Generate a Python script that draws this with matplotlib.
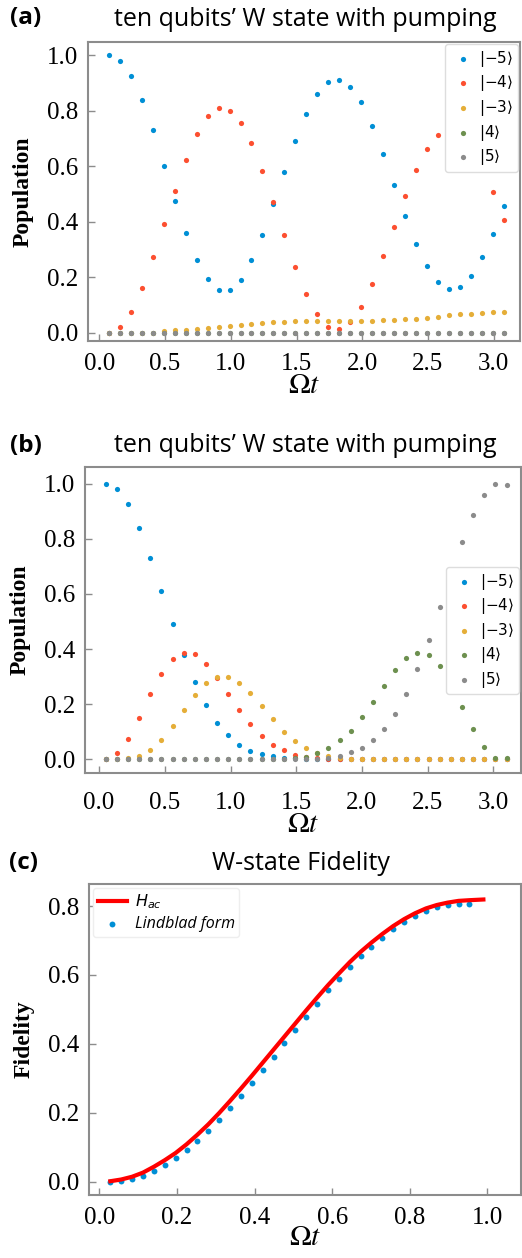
import numpy as np
import matplotlib.pyplot as plt

plt.rcParams['font.family'] = ['Liberation Serif', 'DejaVu Serif']
plt.rcParams['mathtext.fontset'] = 'stix'

colors = ['#008fd5', '#fc4f30', '#e5ae38', '#6d904f', '#8b8b8b']
labels = [r'$|{-5}\rangle$', r'$|{-4}\rangle$', r'$|{-3}\rangle$', r'$|4\rangle$', r'$|5\rangle$']

# panel (a): populations, 37 time samples
t_a = np.linspace(0.071, 3.08, 37)
a_m5 = [1.00, 0.98, 0.927, 0.84, 0.73, 0.60, 0.475, 0.36, 0.264, 0.194, 0.156, 0.156, 0.192,
        0.262, 0.354, 0.463, 0.579, 0.69, 0.787, 0.86, 0.904, 0.912, 0.886, 0.832, 0.747,
        0.646, 0.534, 0.423, 0.32, 0.24, 0.182, 0.158, 0.166, 0.204, 0.273, 0.358, 0.457]
a_m4 = [0.0, 0.02, 0.076, 0.162, 0.273, 0.393, 0.513, 0.624, 0.716, 0.78, 0.81, 0.80, 0.757,
        0.684, 0.585, 0.47, 0.353, 0.238, 0.14, 0.067, 0.022, 0.014, 0.04, 0.095, 0.177,
        0.276, 0.383, 0.492, 0.587, 0.664, 0.712, 0.73, 0.713, 0.664, 0.60, 0.509, 0.408]
a_m3 = [0.0, 0.0, 0.0, 0.0, 0.001, 0.006, 0.009, 0.011, 0.013, 0.017, 0.021, 0.026, 0.029,
        0.032, 0.036, 0.038, 0.041, 0.042, 0.042, 0.042, 0.043, 0.043, 0.043, 0.043, 0.044,
        0.045, 0.047, 0.049, 0.050, 0.055, 0.058, 0.063, 0.067, 0.070, 0.072, 0.075, 0.077]
a_p4 = [0.0] * 37
a_p5 = [0.0] * 37

# panel (b)
t_b = np.linspace(0.051, 3.10, 37)
b_m5 = [1.0, 0.981, 0.925, 0.84, 0.73, 0.612, 0.49, 0.378, 0.28, 0.198, 0.134, 0.087, 0.053,
        0.031, 0.019, 0.012, 0.006, 0.004, 0.002, 0.001, 0.0, 0.0, 0.0, 0.0, 0.0, 0.0, 0.0,
        0.0, 0.0, 0.0, 0.0, 0.0, 0.0, 0.0, 0.0, 0.0, 0.0]
b_m4 = [0.0, 0.022, 0.075, 0.151, 0.236, 0.309, 0.363, 0.387, 0.381, 0.347, 0.297, 0.238, 0.181,
        0.129, 0.084, 0.053, 0.033, 0.018, 0.01, 0.005, 0.003, 0.001, 0.0, 0.0, 0.0, 0.0, 0.0,
        0.0, 0.0, 0.0, 0.0, 0.0, 0.0, 0.0, 0.0, 0.0, 0.0]
b_m3 = [0.0, 0.0, 0.006, 0.014, 0.035, 0.072, 0.123, 0.18, 0.234, 0.277, 0.299, 0.299, 0.277,
        0.241, 0.193, 0.145, 0.10, 0.066, 0.04, 0.022, 0.012, 0.006, 0.003, 0.002, 0.001, 0.0,
        0.0, 0.0, 0.0, 0.0, 0.0, 0.0, 0.0, 0.0, 0.0, 0.0, 0.0]
b_p4 = [0.0, 0.0, 0.0, 0.0, 0.0, 0.0, 0.0, 0.0, 0.0, 0.0, 0.0, 0.0, 0.0, 0.0, 0.0, 0.001,
        0.002, 0.004, 0.01, 0.025, 0.041, 0.069, 0.105, 0.153, 0.208, 0.268, 0.325, 0.367,
        0.387, 0.379, 0.339, 0.273, 0.192, 0.111, 0.046, 0.007, 0.007]
b_p5 = [0.0, 0.0, 0.0, 0.0, 0.0, 0.0, 0.0, 0.0, 0.0, 0.0, 0.0, 0.0, 0.0, 0.0, 0.0, 0.0, 0.0,
        0.0, 0.001, 0.002, 0.005, 0.012, 0.027, 0.042, 0.069, 0.109, 0.165, 0.236, 0.328,
        0.433, 0.551, 0.673, 0.788, 0.885, 0.958, 0.998, 0.995]

# panel (c): fidelity
t_c = np.linspace(0.028, 0.954, 34)
fid_lindblad = [-0.002, 0.001, 0.008, 0.016, 0.031, 0.047, 0.069, 0.092, 0.119, 0.147, 0.179,
                0.213, 0.248, 0.285, 0.324, 0.361, 0.401, 0.44, 0.479, 0.517, 0.555, 0.589,
                0.622, 0.654, 0.682, 0.708, 0.733, 0.755, 0.772, 0.786, 0.797, 0.802, 0.805, 0.805]
t_hac = list(np.linspace(0.028, 0.954, 34)) + [0.99]
fid_hac = [0.001, 0.006, 0.014, 0.026, 0.043, 0.062, 0.083, 0.108, 0.136, 0.166, 0.199, 0.234,
           0.27, 0.307, 0.345, 0.383, 0.421, 0.459, 0.497, 0.534, 0.57, 0.604, 0.637, 0.667,
           0.694, 0.719, 0.742, 0.762, 0.779, 0.793, 0.803, 0.81, 0.815, 0.817, 0.819]

W, H = 522, 1258
fig = plt.figure(figsize=(W / 100, H / 100), dpi=100)


def box(l, r, top, bot):
    return [l / W, 1 - bot / H, (r - l) / W, (bot - top) / H]


def style(ax, xpad):
    for s in ax.spines.values():
        s.set_color('#8c8c8c')
        s.set_linewidth(1.5)
    ax.tick_params(direction='in', length=5, width=1, color='#8c8c8c', labelsize=18, pad=7)
    ax.tick_params(axis='x', pad=xpad)


def pop_legend(ax, **kw):
    leg = ax.legend(fontsize=11, handletextpad=0.2, borderpad=0.3,
                    labelspacing=0.3, handlelength=1.7, borderaxespad=0.15,
                    edgecolor='#dddddd', framealpha=1, **kw)
    for txt in leg.get_texts():
        txt.set_math_fontfamily('dejavusans')


# (a)
ax1 = fig.add_axes(box(88, 520, 42, 341))
for y, c, lab in zip([a_m5, a_m4, a_m3, a_p4, a_p5], colors, labels):
    ax1.scatter(t_a, y, s=14, color=c, linewidths=0, label=lab)
ax1.set_xlim(-0.086, 3.2)
ax1.set_ylim(-0.029, 1.048)
ax1.set_xticks([0.0, 0.5, 1.0, 1.5, 2.0, 2.5, 3.0])
ax1.set_yticks([0.0, 0.2, 0.4, 0.6, 0.8, 1.0])
style(ax1, 9)
ax1.set_ylabel('Population', fontsize=17, fontweight='bold', labelpad=10)
ax1.set_xlabel(r'$\Omega t$', fontsize=21, labelpad=-2)
pop_legend(ax1, loc='upper right')

# (b)
ax2 = fig.add_axes(box(85, 521, 467, 773))
for y, c, lab in zip([b_m5, b_m4, b_m3, b_p4, b_p5], colors, labels):
    ax2.scatter(t_b, y, s=14, color=c, linewidths=0, label=lab)
ax2.set_xlim(-0.107, 3.21)
ax2.set_ylim(-0.049, 1.06)
ax2.set_xticks([0.0, 0.5, 1.0, 1.5, 2.0, 2.5, 3.0])
ax2.set_yticks([0.0, 0.2, 0.4, 0.6, 0.8, 1.0])
style(ax2, 14)
ax2.set_ylabel('Population', fontsize=17, fontweight='bold', labelpad=10)
ax2.set_xlabel(r'$\Omega t$', fontsize=21, labelpad=-2)
pop_legend(ax2, loc='center right', bbox_to_anchor=(1.0, 0.465))

# (c)
ax3 = fig.add_axes(box(89, 521, 884, 1195))
ax3.plot(t_hac, fid_hac, color='red', lw=3, label=r'$H_{ac}$')
ax3.scatter(t_c, fid_lindblad, s=18, color='#008fd5', linewidths=0, label='Lindblad form')
ax3.set_xlim(-0.027, 1.087)
ax3.set_ylim(-0.039, 0.864)
ax3.set_xticks([0.0, 0.2, 0.4, 0.6, 0.8, 1.0])
ax3.set_yticks([0.0, 0.2, 0.4, 0.6, 0.8])
style(ax3, 9)
ax3.set_ylabel('Fidelity', fontsize=17, fontweight='bold', labelpad=10)
ax3.set_xlabel(r'$\Omega t$', fontsize=21, labelpad=-3)
leg = ax3.legend(loc='upper left', prop={'family': 'Open Sans', 'style': 'italic', 'size': 11.5},
                 handlelength=1.8, borderpad=0.3, labelspacing=0.3, handletextpad=0.5,
                 borderaxespad=0.25, edgecolor='#eeeeee', framealpha=1)
for txt in leg.get_texts():
    txt.set_math_fontfamily('dejavusans')

# panel titles
tfont = dict(family='Open Sans', fontsize=18, va='center', ha='center')
fig.text(305, H - 19, 'ten qubits\u2019 W state with pumping', transform=None, **tfont)
fig.text(305, H - 446, 'ten qubits\u2019 W state with pumping', transform=None, **tfont)
fig.text(301, H - 863, 'W-state Fidelity', transform=None, **tfont)
lfont = dict(family='Open Sans', fontsize=17.5, fontweight='bold', va='center', ha='left')
fig.text(10, H - 18, '(a)', transform=None, **lfont)
fig.text(10, H - 446, '(b)', transform=None, **lfont)
fig.text(9, H - 863, '(c)', transform=None, **lfont)

fig.savefig('out.png', dpi=100)
